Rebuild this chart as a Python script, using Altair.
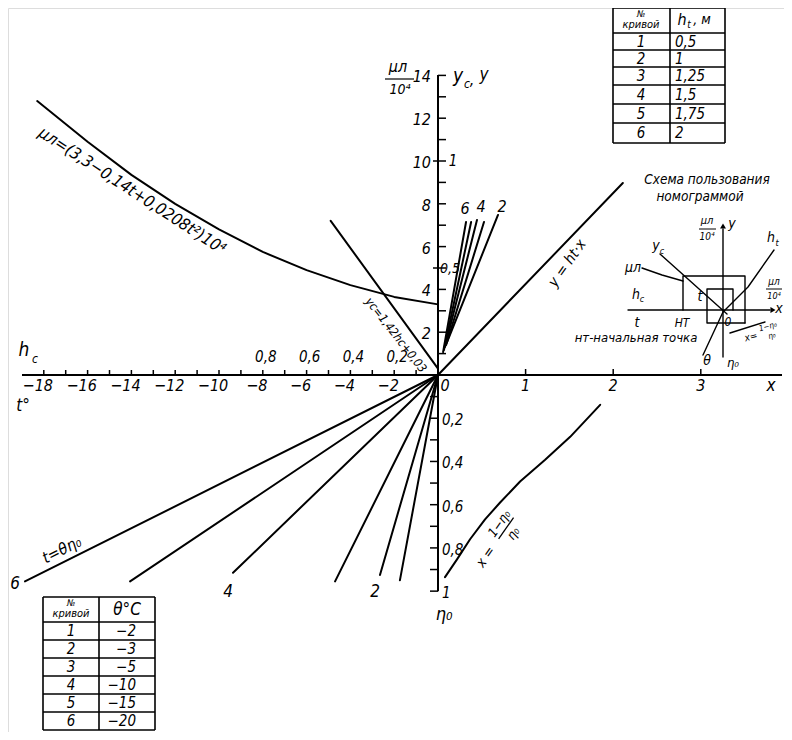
import math
import altair as alt
import pandas as pd

# ----------------------------- values -----------------------------
# Curve  μл = (3,3 − 0,14t + 0,0208t²)·10⁴  : temperature t (°C) and μл/10⁴
mu_t   = [-18.3, -16.0, -14.0, -12.0, -10.0, -8.0, -6.0, -4.0, -2.0, 0.0]
mu_val = [12.8, 10.9, 9.35, 8.0, 6.8, 5.75, 4.9, 4.2, 3.65, 3.3]

# Line  yc = 1,42hc + 0,03 : end points (hc, yc)
yc_hc  = [0.0, 0.49]
yc_val = [0.03, 0.72]

# Fan  y = ht·x  (curves 1..6): start / end points in (x, y)
ht_no = [1, 2, 3, 4, 5, 6]
ht_x0 = [0.0, 0.10, 0.093, 0.08, 0.068, 0.058]
ht_y0 = [0.0, 0.150, 0.140, 0.131, 0.117, 0.107]
ht_x1 = [2.11, 0.685, 0.525, 0.445, 0.378, 0.32]
ht_y1 = [0.897, 0.748, 0.715, 0.724, 0.715, 0.715]

# Fan  t = θ·η0  (curves 1..6): end points (t, η0); all start at the origin
th_no   = [1, 2, 3, 4, 5, 6]
th_t1   = [-1.74, -2.65, -4.70, -9.36, -14.06, -18.86]
th_eta1 = [0.95, 0.925, 0.955, 0.915, 0.955, 0.955]

# Curve  x = (1 − η0)/η0  as drawn: points (x, η0)
eta_x   = [0.08, 0.217, 0.366, 0.537, 0.709, 0.937, 1.223, 1.509, 1.851]
eta_val = [0.935, 0.853, 0.760, 0.668, 0.590, 0.493, 0.392, 0.286, 0.138]

# Scales of the nomogram
t_ticks    = list(range(-18, 0))
t_labels   = [-18, -16, -14, -12, -10, -8, -6, -4, -2]
hc_labels  = [0.8, 0.6, 0.4, 0.2]
x_labels   = [1, 2, 3]
mu_ticks   = list(range(1, 15))
mu_labels  = [2, 4, 6, 8, 10, 12, 14]
y_labels   = [0.5, 1]
eta_ticks  = [0.1, 0.2, 0.3, 0.4, 0.5, 0.6, 0.7, 0.8, 0.9, 1.0]
eta_labels = [0.2, 0.4, 0.6, 0.8, 1.0]

# Tables
tab_ht_no  = ["1", "2", "3", "4", "5", "6"]
tab_ht_val = ["0,5", "1", "1,25", "1,5", "1,75", "2"]
tab_th_no  = ["1", "2", "3", "4", "5", "6"]
tab_th_val = ["−2", "−3", "−5", "−10", "−15", "−20"]

# ----------------------------- layout -----------------------------
W, H = 776, 724
OX, OY = 438, 375          # page position of the nomogram origin
PU, PV = 21.9, 21.4        # pixels per unit of t and of μл/10⁴
KX, KY, KE, KH = 4.0, 10.0, 10.1, 10.0   # x, y, η0, hc expressed in base units
UMIN = (8 - OX) / PU
UMAX = UMIN + W / PU
VMAX = (OY - 8) / PV
VMIN = VMAX - H / PV
FONT = "'DejaVu Sans Condensed', 'Liberation Sans Narrow', 'DejaVu Sans', sans-serif"


def U(px):
    return (px - OX) / PU


def V(py):
    return (OY - py) / PV


xs = alt.Scale(domain=[UMIN, UMAX], nice=False, zero=False)
ys = alt.Scale(domain=[VMIN, VMAX], nice=False, zero=False)
X = lambda f="u": alt.X(f + ":Q", scale=xs, axis=None)
Y = lambda f="v": alt.Y(f + ":Q", scale=ys, axis=None)

layers = []


def add_lines(rows, width=2.0):
    df = pd.DataFrame(rows, columns=["g", "i", "u", "v"])
    layers.append(alt.Chart(df).mark_line(color="black", strokeWidth=width, strokeCap="round",
                                          strokeJoin="round").encode(
        x=X(), y=Y(), detail="g:N", order="i:Q"))


def add_segs(rows, width=1.5):
    df = pd.DataFrame(rows, columns=["u", "v", "u2", "v2"])
    layers.append(alt.Chart(df).mark_rule(color="black", strokeWidth=width).encode(
        x=X(), y=Y(), x2="u2:Q", y2="v2:Q"))


text_rows = {"center": [], "left": [], "right": []}


def T(s, u, v, size=15, angle=0, align="center"):
    text_rows[align].append({"text": s, "u": u, "v": v, "size": size, "angle": angle})


def TP(s, px, py, size=15, angle=0, align="center"):
    T(s, U(px), V(py), size, angle, align)


# ---- curves of the nomogram ----
add_lines([("mu", i, t, m) for i, (t, m) in enumerate(zip(mu_t, mu_val))])
add_lines([("yc", i, -KH * h, KY * y) for i, (h, y) in enumerate(zip(yc_hc, yc_val))])
rows = []
for n, a, b, c, d in zip(ht_no, ht_x0, ht_y0, ht_x1, ht_y1):
    rows += [(f"ht{n}", 0, KX * a, KY * b), (f"ht{n}", 1, KX * c, KY * d)]
add_lines(rows)
rows = []
for n, t1, e1 in zip(th_no, th_t1, th_eta1):
    rows += [(f"th{n}", 0, 0.0, 0.0), (f"th{n}", 1, t1, -KE * e1)]
add_lines(rows)
add_lines([("eta", i, KX * x, -KE * e) for i, (x, e) in enumerate(zip(eta_x, eta_val))])

# ---- axes ----
add_segs([(U(22), 0, U(782), 0), (0, V(75), 0, -KE * 1.0)], width=2.0)
segs = []
segs += [(t, 0, t, 5 / PV) for t in t_ticks]
segs += [(KX * x, 0, KX * x, 6 / PV) for x in x_labels]
segs += [(0, m, 8 / PU, m) for m in mu_ticks]
segs += [(-5 / PU, KY * y, 0, KY * y) for y in y_labels]
segs += [(-8 / PU, -KE * e, 0, -KE * e) for e in eta_ticks]
add_segs(segs, width=1.5)

for t in t_labels:
    T(f"−{abs(t)}", t - 6 / PU, V(386), 16)
TP("0", 445, 386, 16)
for x in x_labels:
    T(str(x), KX * x, V(386), 16)
TP("x", 771, 386, 17)
for h in hc_labels:
    T(f"{h:.1f}".replace(".", ","), -KH * h + 3 / PU, V(357), 15)
for m in mu_labels:
    T(str(m), U(431), m - 2 / PV, 16, align="right")
T("1", U(453), KY * 1, 15)
T("0,5", U(450), KY * 0.5 - 1 / PV, 14)
for e in eta_labels:
    T(("1" if e == 1.0 else f"{e:.1f}".replace(".", ",")), U(442), -KE * e - 2 / PV, 15, align="left")

# axis titles
TP("h", 24, 350, 19)
TP("c", 35, 359, 12)
TP("t°", 23, 406, 17)
TP("μл", 398, 67, 16)
add_segs([(U(385), V(79), U(414), V(79))], width=1.2)
TP("10⁴", 400, 90, 14)
TP("y", 458, 76, 19)
TP("c", 467, 84, 12)
TP(",", 472, 80, 16)
TP("y", 484, 75, 17)
TP("η₀", 444, 615, 18)

# curve labels
TP("μл=(3,3−0,14t+0,0208t²)10⁴", 132, 191, 16.5, 33)
TP("yc=1,42hc+0,03", 396, 335, 12, 52)
TP("y = ht·x", 567, 263, 15, -55)
TP("t=θη₀", 62, 550, 16, -27)
TP("6", 465, 209, 16)
TP("4", 481, 207, 16)
TP("2", 502, 207, 16)
TP("6", 15, 584, 17)
TP("4", 228, 592, 17)
TP("2", 375, 592, 17)

# fraction label of the η0 curve
ang = -55.0
dx, dy = math.cos(math.radians(ang)), math.sin(math.radians(ang))
nx, ny = -dy, dx
ax, ay = 486, 557
TP("x =", ax, ay, 14, ang)
TP("1−η₀", ax + 35 * dx - 8 * nx, ay + 35 * dy - 8 * ny, 13, ang)
TP("η₀", ax + 35 * dx + 9 * nx, ay + 35 * dy + 9 * ny, 13, ang)
add_segs([(U(ax + 22 * dx), V(ay + 22 * dy), U(ax + 48 * dx), V(ay + 48 * dy))], width=1.3)

# ---- tables ----
def table(cols, rows_y):
    s = []
    for c in cols:
        s.append((U(c), V(rows_y[0]), U(c), V(rows_y[-1])))
    for r in rows_y:
        s.append((U(cols[0]), V(r), U(cols[-1]), V(r)))
    add_segs(s, width=1.6)


c1, r1 = [613, 670, 725], [8, 33, 50, 67, 85, 104, 123, 143]
table(c1, r1)
TP("№", 641, 14, 9)
TP("кривой", 641, 25, 11)
TP("h", 682, 20, 16)
TP("t", 689, 25, 10)
TP(", м", 702, 20, 14)
for k in range(6):
    ym = (r1[k + 1] + r1[k + 2]) / 2
    TP(tab_ht_no[k], 641, ym, 15)
    TP(tab_ht_val[k], 675, ym, 15, align="left")

c2, r2 = [43, 99, 155], [597, 622, 640, 658, 676, 694, 712, 730]
table(c2, r2)
TP("№", 71, 603, 9)
TP("кривой", 71, 614, 11)
TP("θ°C", 127, 610, 17)
for k in range(6):
    ym = (r2[k + 1] + r2[k + 2]) / 2
    TP(tab_th_no[k], 71, ym, 15)
    TP(tab_th_val[k], 136, ym, 15, align="right")

# ---- inset: scheme of use ----
TP("Схема пользования", 707, 180, 13.5)
TP("номограммой", 700, 197, 13.5)
add_lines([
    ("ax", 0, U(628), V(310)), ("ax", 1, U(770), V(310)),
    ("ay", 0, U(723), V(357)), ("ay", 1, U(723), V(229)),
    ("yc", 0, U(660), V(254)), ("yc", 1, U(727), V(314)),
    ("mu", 0, U(642), V(268)), ("mu", 1, U(662), V(275)), ("mu", 2, U(683), V(281)),
    ("th", 0, U(703), V(355)), ("th", 1, U(723), V(312)),
    ("ht", 0, U(723), V(312)), ("ht", 1, U(748), V(287)), ("ht", 2, U(774), V(250)),
    ("p1", 0, U(683), V(310)), ("p1", 1, U(683), V(276)), ("p1", 2, U(745), V(276)),
    ("p1", 3, U(745), V(323)),
    ("p2", 0, U(745), V(323)), ("p2", 1, U(707), V(323)), ("p2", 2, U(707), V(289)),
    ("p2", 3, U(733), V(289)), ("p2", 4, U(733), V(310)),
    ("xc", 0, U(730), V(333)), ("xc", 1, U(765), V(322)),
], width=1.4)
arr = pd.DataFrame({"u": [U(773), U(723)], "v": [V(310), V(226)], "a": [90, 0]})
layers.append(alt.Chart(arr).mark_point(shape="triangle-up", filled=True, size=35, color="black",
                                        opacity=1).encode(
    x=X(), y=Y(), angle=alt.Angle("a:Q", scale=None)))
TP("μл", 707, 221, 11)
add_segs([(U(699), V(229), U(716), V(229))], width=1)
TP("10⁴", 707, 237, 10)
TP("y", 732, 224, 14)
TP("x", 779, 309, 14)
TP("h", 636, 295, 14)
TP("c", 642, 299, 9)
TP("t", 637, 323, 14)
TP("НТ", 682, 323, 12)
TP("0", 728, 322, 12)
TP("θ", 707, 361, 14)
TP("η₀", 733, 363, 13)
TP("y", 656, 246, 14)
TP("c", 662, 251, 9)
TP("μл", 633, 268, 14)
TP("h", 771, 238, 14)
TP("t", 777, 243, 9)
TP("μл", 774, 282, 10)
add_segs([(U(766), V(289), U(782), V(289))], width=1)
TP("10⁴", 774, 296, 9)
TP("t", 700, 297, 14)
TP("x=", 751, 337, 10, -15)
TP("1−η₀", 768, 327, 8, -15)
TP("η₀", 772, 336, 8, -15)
TP("нт-начальная точка", 636, 338, 13)

for align, rws in text_rows.items():
    if not rws:
        continue
    df = pd.DataFrame(rws)
    layers.append(alt.Chart(df).mark_text(align=align, baseline="middle", font=FONT,
                                          fontStyle="italic", color="black").encode(
        x=X(), y=Y(), text="text:N",
        size=alt.Size("size:Q", scale=None, legend=None),
        angle=alt.Angle("angle:Q", scale=None)))

chart = alt.layer(*layers).properties(
    width=W, height=H, padding=0, autosize=alt.AutoSizeParams(type="none")
).configure_view(strokeWidth=0, stroke=None).configure(background="white")

chart.save("out.html", embed_options={"renderer": "svg", "actions": False})
